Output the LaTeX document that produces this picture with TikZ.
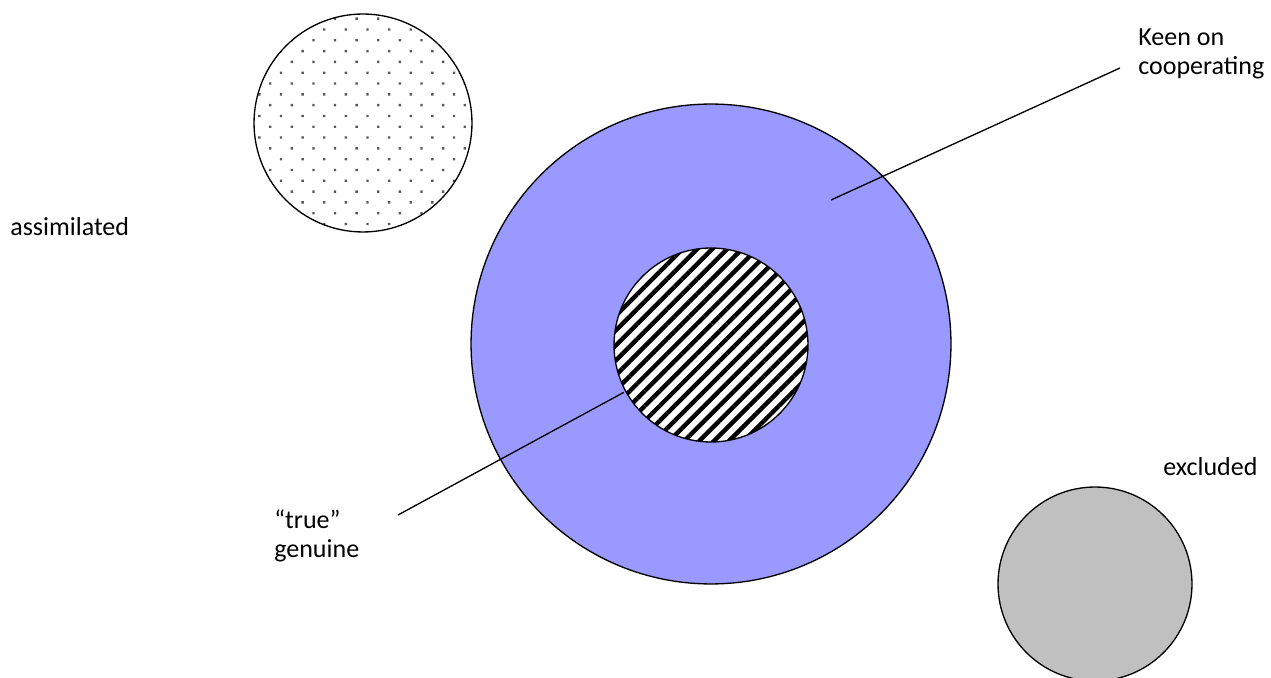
\documentclass[tikz,border=0pt]{standalone}
\usepackage{fontspec}
\setmainfont{Carlito}
\usetikzlibrary{patterns.meta}
\definecolor{keen}{RGB}{153,153,255}
\definecolor{outgrey}{RGB}{192,192,192}

\begin{document}
\begin{tikzpicture}[x=0.02cm,y=-0.02cm,
  ring/.style={circle,draw,line width=0.75pt,inner sep=0pt},
  lbl/.style={align=left,inner sep=0pt,font=\fontsize{14.8pt}{16.8pt}\selectfont}]

\useasboundingbox (0,0) rectangle (1271,678);

% circles
\node (big) [ring,fill=keen,minimum size=9.6cm] at (711,344) {};
\node (core) [ring,preaction={fill=white},pattern={Lines[angle=45,distance=6pt,line width=2.5pt]},minimum size=3.88cm] at (711,345) {};
\node (asm) [ring,pattern={Dots[angle=45,distance=8.7pt,radius=0.95pt]},pattern color=black!65,minimum size=4.36cm] at (363,123) {};
\node (exc) [ring,fill=outgrey,minimum size=3.88cm] at (1095,584) {};

% labels
\node (keen) [lbl,anchor=north west] at (1138,28) {Keen on\\cooperating};
\node (asml) [lbl,anchor=base west] at (10,236) {assimilated};
\node (excl) [lbl,anchor=base west] at (1163,476) {excluded};
\node (true) [lbl,anchor=north west] at (274,509) {“true”\\genuine};

% pointers
\coordinate (kin) at (831,200);
\coordinate (kout) at (1120,68);
\coordinate (tout) at (398,515);
\draw[line width=0.75pt] (kin) -- (kout);
\draw[line width=0.75pt] (tout) -- (core);

\end{tikzpicture}
\end{document}
